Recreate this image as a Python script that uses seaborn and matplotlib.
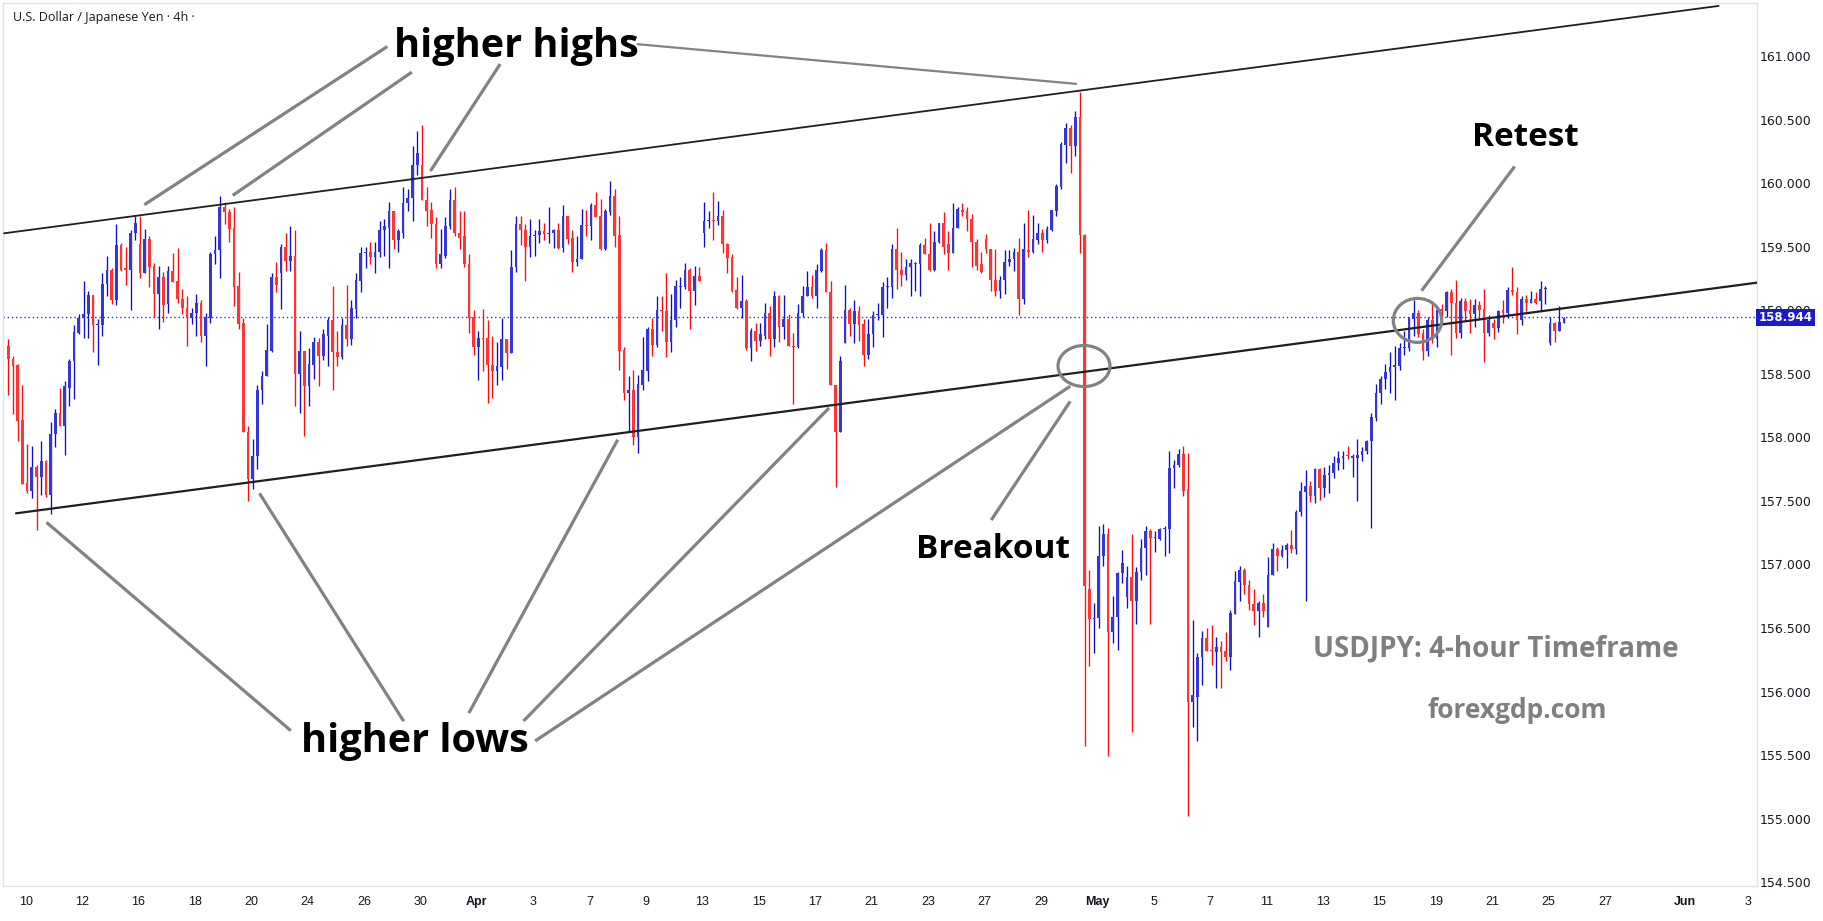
import numpy as np
import pandas as pd
import matplotlib
matplotlib.use("Agg")
import matplotlib.pyplot as plt
import matplotlib.transforms as mtransforms
from matplotlib.patches import Ellipse
import seaborn as sns

# ---------------- data (USDJPY 4h candles) ----------------
opens = [158.72,158.62,158.57,158.14,157.64,157.58,157.77,157.69,157.81,157.55,
158.03,158.19,158.09,158.39,158.60,158.82,158.94,158.97,159.12,158.88,
158.88,159.21,159.32,159.08,159.51,159.33,159.32,159.61,159.52,159.29,
159.56,159.35,159.13,159.26,159.05,159.31,159.23,159.09,159.02,158.94,
158.98,159.06,158.80,158.94,159.44,159.47,159.81,159.77,159.65,159.19,
158.90,158.04,157.67,157.85,158.37,158.48,158.68,159.26,159.29,159.50,
159.39,159.43,158.50,158.68,158.40,158.57,158.75,158.64,158.80,158.92,
158.67,158.63,158.88,158.77,159.01,159.23,159.45,159.46,159.42,159.46,
159.63,159.65,159.78,159.55,159.61,159.84,159.88,160.14,160.14,159.87,
159.79,159.68,159.36,159.43,159.66,159.87,159.61,159.58,159.36,158.95,
158.71,158.78,158.78,158.57,158.52,158.55,158.77,158.66,159.34,159.68,
159.63,159.50,159.58,159.59,159.62,159.60,159.61,159.63,159.49,159.74,
159.57,159.38,159.40,159.67,159.66,159.83,159.74,159.48,159.77,159.90,
159.59,158.69,158.35,158.37,158.00,158.41,158.52,158.85,158.73,159.00,
158.99,158.75,158.92,159.18,159.18,159.32,159.15,159.27,159.61,159.70,
159.71,159.70,159.74,159.52,159.42,159.16,159.02,159.07,158.70,158.84,
158.76,158.80,158.98,158.77,159.11,158.87,158.93,158.72,158.71,158.98,
159.11,159.18,159.11,159.31,159.47,159.14,158.41,158.04,158.74,159.00,
158.89,158.99,158.89,158.65,158.81,158.96,158.96,159.18,159.18,159.48,
159.32,159.28,159.34,159.36,159.36,159.51,159.44,159.32,159.54,159.69,
159.52,159.45,159.65,159.79,159.78,159.72,159.54,159.36,159.56,159.48,
159.24,159.15,159.24,159.38,159.40,159.46,159.09,159.47,159.46,159.55,
159.61,159.55,159.63,159.78,159.97,160.30,160.43,160.29,160.52,159.59,
156.81,156.57,156.58,157.07,157.24,156.47,156.59,156.93,156.74,156.90,
156.71,156.94,157.13,157.26,157.21,157.20,157.28,157.28,157.76,157.78,
157.87,157.59,155.92,155.96,156.27,156.42,156.33,156.31,156.35,156.32,
156.27,156.61,156.86,156.96,156.84,156.69,156.63,156.70,156.51,156.92,
157.12,157.07,157.11,157.15,157.12,157.41,157.57,157.62,157.54,157.75,
157.60,157.70,157.72,157.80,157.84,157.86,157.84,157.84,157.86,157.89,
157.97,158.15,158.35,158.46,158.51,158.55,158.56,158.70,158.70,158.93,
158.98,158.82,158.68,158.92,158.77,159.01,158.99,159.14,159.06,158.82,
159.07,159.00,158.97,159.04,159.01,158.82,158.90,158.86,159.00,158.98,
159.16,159.14,158.92,159.09,159.06,159.09,159.07,159.17,158.74,158.90,
158.84,158.90]
highs = [158.77,158.64,158.58,158.41,157.95,157.93,157.78,157.97,157.82,158.12,
158.22,158.39,158.44,158.62,158.88,158.97,159.23,159.15,159.12,158.93,
159.29,159.43,159.33,159.68,159.53,159.50,159.63,159.74,159.74,159.64,
159.58,159.37,159.35,159.30,159.35,159.45,159.49,159.17,159.11,159.02,
159.13,159.08,158.98,159.46,159.58,159.90,159.85,159.80,159.81,159.30,
158.94,158.09,157.99,158.41,158.52,158.89,159.29,159.38,159.52,159.61,
159.66,159.63,158.84,158.68,158.70,158.79,158.78,158.85,158.95,159.19,
158.84,158.94,159.20,159.08,159.29,159.50,159.50,159.54,159.54,159.70,
159.72,159.85,159.78,159.64,159.97,159.95,160.29,160.41,160.46,159.97,
159.85,159.73,159.64,159.73,159.95,159.97,159.78,159.78,159.44,159.00,
158.84,159.01,158.92,158.80,158.75,158.94,158.77,159.47,159.74,159.74,
159.68,159.72,159.63,159.72,159.69,159.81,159.64,159.69,159.83,159.74,
159.63,159.58,159.80,159.79,159.84,159.93,159.875,159.80,160.02,159.95,
159.74,158.71,158.48,158.53,158.49,158.79,158.87,158.94,159.11,159.11,
159.29,159.13,159.24,159.26,159.37,159.33,159.35,159.34,159.85,159.78,
159.93,159.86,159.79,159.53,159.44,159.26,159.28,159.09,158.86,158.90,
158.90,159.06,159.03,159.15,159.12,159.12,158.97,158.82,159.05,159.19,
159.31,159.28,159.36,159.49,159.53,159.23,158.41,158.64,159.20,159.02,
159.08,159.03,158.93,158.93,158.99,159.06,159.22,159.26,159.52,159.65,
159.46,159.40,159.40,159.38,159.53,159.57,159.69,159.62,159.69,159.77,
159.62,159.84,159.81,159.84,159.81,159.76,159.56,159.46,159.60,159.48,
159.48,159.27,159.47,159.47,159.49,159.57,159.69,159.79,159.75,159.69,
159.64,159.66,159.79,159.99,160.32,160.47,160.46,160.57,160.72,159.60,
156.96,156.70,157.30,157.32,157.29,156.75,156.94,157.11,156.99,157.24,
156.98,157.20,157.30,157.28,157.26,157.29,157.30,157.89,157.82,157.91,
157.93,157.88,156.56,156.30,156.48,156.50,156.52,156.43,156.40,156.47,
156.64,156.95,156.99,156.97,156.88,156.81,156.71,156.77,157.06,157.17,
157.14,157.15,157.17,157.27,157.43,157.65,157.74,157.66,157.76,157.76,
157.77,157.78,157.85,157.89,157.89,157.93,157.87,157.99,157.92,157.98,
158.19,158.42,158.48,158.58,158.67,158.72,158.74,158.84,158.95,159.08,
159.00,158.85,158.95,159.07,159.03,159.05,159.15,159.17,159.24,159.10,
159.10,159.09,159.09,159.07,159.17,158.96,158.93,159.00,159.08,159.18,
159.34,159.18,159.11,159.12,159.15,159.14,159.23,159.19,158.95,158.91,
159.03,158.95]
lows = [158.33,158.18,157.97,157.63,157.56,157.52,157.27,157.55,157.53,157.40,
157.92,158.09,157.86,158.25,158.30,158.81,158.78,158.78,158.67,158.57,
158.80,159.11,159.05,159.04,159.31,159.20,159.00,159.55,159.25,159.29,
159.18,158.95,158.85,158.91,158.98,159.22,159.06,158.97,158.72,158.89,
158.80,158.75,158.56,158.90,159.36,159.25,159.68,159.54,159.03,158.85,
158.04,157.50,157.59,157.75,158.26,158.48,158.67,159.14,159.01,159.31,
159.31,158.25,158.19,158.01,158.25,158.46,158.40,158.61,158.56,158.37,
158.56,158.62,158.72,158.73,158.94,159.14,159.33,159.36,159.29,159.42,
159.43,159.33,159.48,159.46,159.57,159.78,159.70,160.06,159.87,159.66,
159.57,159.33,159.33,159.41,159.64,159.58,159.48,159.34,158.82,158.65,
158.45,158.52,158.27,158.31,158.41,158.45,158.54,158.66,159.30,159.51,
159.23,159.42,159.43,159.53,159.55,159.53,159.49,159.48,159.46,159.52,
159.30,159.35,159.40,159.58,159.55,159.73,159.47,159.47,159.75,159.50,
158.53,158.29,158.04,157.94,157.88,158.37,158.44,158.64,158.71,158.84,
158.63,158.67,158.87,159.02,159.17,158.85,159.04,159.23,159.50,159.65,
159.55,159.67,159.45,159.29,159.14,159.01,158.94,158.69,158.60,158.68,
158.72,158.77,158.64,158.71,158.75,158.77,158.72,158.26,158.70,158.95,
159.11,159.10,159.02,159.30,159.14,158.41,157.61,158.04,158.74,158.80,
158.74,158.76,158.56,158.62,158.71,158.92,158.79,159.02,159.10,159.17,
159.19,159.24,159.11,159.15,159.11,159.44,159.31,159.31,159.53,159.44,
159.32,159.45,159.65,159.74,159.62,159.34,159.32,159.29,159.45,159.15,
159.11,159.10,159.13,159.35,159.31,158.96,159.05,159.42,159.45,159.52,
159.46,159.53,159.62,159.74,159.95,160.16,160.08,160.21,159.45,155.57,
156.20,156.30,156.50,156.99,155.49,156.38,156.33,156.85,156.66,155.68,
156.53,156.88,156.92,156.53,157.10,157.19,157.07,157.09,157.60,157.77,
157.54,155.02,155.72,155.61,156.05,156.32,156.21,156.03,156.03,156.24,
156.17,156.61,156.71,156.77,156.64,156.52,156.43,156.59,156.51,156.92,
156.95,157.06,156.97,157.09,157.08,157.38,156.71,157.49,157.48,157.51,
157.53,157.56,157.68,157.74,157.75,157.83,157.69,157.50,157.81,157.87,
157.29,158.13,158.26,158.38,158.35,158.29,158.53,158.65,158.68,158.80,
158.79,158.61,158.64,158.74,158.71,158.95,158.95,158.65,158.78,158.78,
158.92,158.82,158.87,158.92,158.59,158.80,158.77,158.83,158.90,158.94,
159.12,158.81,158.88,158.99,159.06,159.05,158.99,159.05,158.73,158.75,
158.84,158.90]
closes = [158.62,158.56,158.13,157.63,157.58,157.77,157.69,157.81,157.55,158.03,
158.19,158.09,158.40,158.60,158.83,158.94,158.97,159.12,158.88,158.89,
159.21,159.32,159.08,159.51,159.32,159.32,159.61,159.69,159.29,159.56,
159.34,159.13,159.26,159.04,159.31,159.22,159.09,159.02,158.94,158.98,
159.06,158.80,158.95,159.44,159.47,159.81,159.77,159.64,159.18,158.89,
158.04,157.67,157.85,158.37,158.48,158.69,159.26,159.20,159.50,159.39,
159.43,158.50,158.68,158.40,158.58,158.75,158.64,158.81,158.92,158.67,
158.63,158.88,158.77,159.02,159.24,159.45,159.46,159.42,159.46,159.63,
159.66,159.78,159.55,159.62,159.84,159.88,160.14,160.24,159.87,159.78,
159.68,159.36,159.44,159.66,159.87,159.61,159.57,159.36,158.94,158.71,
158.78,158.77,158.57,158.52,158.56,158.77,158.66,159.34,159.68,159.63,
159.50,159.58,159.59,159.62,159.60,159.61,159.63,159.49,159.74,159.56,
159.38,159.40,159.67,159.66,159.83,159.73,159.48,159.78,159.90,159.58,
158.68,158.35,158.37,158.00,158.42,158.53,158.85,158.73,159.00,158.99,
158.75,158.92,159.19,159.19,159.32,159.15,159.27,159.23,159.70,159.71,
159.70,159.74,159.52,159.41,159.15,159.02,159.07,158.70,158.84,158.76,
158.81,158.98,158.77,159.11,158.87,158.93,158.72,158.71,158.98,159.11,
159.18,159.11,159.32,159.47,159.14,158.41,158.04,158.60,159.00,158.89,
158.99,158.88,158.65,158.81,158.96,158.96,159.18,159.19,159.48,159.32,
159.28,159.34,159.37,159.37,159.51,159.44,159.32,159.54,159.69,159.50,
159.45,159.65,159.80,159.77,159.72,159.54,159.35,159.30,159.48,159.24,
159.15,159.24,159.38,159.40,159.46,159.09,159.48,159.46,159.56,159.61,
159.55,159.64,159.79,159.98,160.31,160.43,160.29,160.52,159.59,156.83,
156.57,156.58,157.07,157.24,156.47,156.59,156.93,157.01,156.90,156.71,
156.94,157.13,157.26,157.21,157.21,157.28,157.28,157.76,157.78,157.87,
157.58,155.92,155.97,156.27,156.42,156.32,156.32,156.35,156.31,156.27,
156.62,156.87,156.96,156.84,156.69,156.63,156.70,156.63,156.92,157.12,
157.07,157.11,157.15,157.12,157.41,157.58,157.62,157.54,157.75,157.60,
157.70,157.72,157.80,157.84,157.85,157.85,157.85,157.86,157.89,157.97,
158.16,158.35,158.46,158.51,158.55,158.57,158.70,158.71,158.94,158.98,
158.81,158.68,158.92,158.77,159.00,158.99,159.14,159.06,158.82,159.07,
158.99,158.97,159.04,159.00,158.82,158.92,158.86,158.99,158.98,159.16,
159.14,158.92,159.09,159.06,159.09,159.06,159.17,159.17,158.90,158.84,
158.91,158.94]

last_price = 158.944
price_ticks = [154.5, 155.0, 155.5, 156.0, 156.5, 157.0, 157.5, 158.0,
               158.5, 159.0, 159.5, 160.0, 160.5, 161.0]
date_labels = ['10', '12', '16', '18', '20', '24', '26', '30', 'Apr', '3', '7', '9',
               '13', '15', '17', '21', '23', '27', '29', 'May', '5', '7', '11', '13',
               '15', '19', '21', '25', '27', 'Jun', '3']
date_pos = [3.7, 15.7, 27.7, 39.7, 51.7, 63.7, 75.7, 87.7, 99.7, 111.7, 123.7, 135.7,
            147.7, 159.7, 171.7, 183.7, 195.7, 207.7, 219.7, 231.7, 243.7, 255.7,
            267.7, 279.7, 291.7, 303.7, 315.7, 327.7, 339.7, 356.7, 370.1]
month_labels = {'Apr', 'May', 'Jun'}

# channel lines (candle index, price)
upper_x = [-0.91, 363.9]
upper_y = [159.605, 161.394]
lower_x = [1.64, 372.1]
lower_y = [157.402, 159.217]

# annotation pointer lines ((x0, y0), (x1, y1)) in (candle index, price)
pointer_lines = [
    ((28.94, 159.830), (80.66, 161.075)),
    ((47.74, 159.903), (85.85, 160.873)),
    ((89.81, 160.095), (104.66, 160.937)),
    ((8.13, 157.331), (60.11, 155.692)),
    ((53.43, 157.560), (84.13, 155.766)),
    ((129.66, 157.981), (97.98, 155.830)),
    ((174.62, 158.231), (109.62, 155.768)),
    ((225.94, 158.402), (112.09, 155.611)),
    ((225.94, 158.283), (209.13, 157.349)),
    ((320.49, 160.131), (300.70, 159.153)),
]
thin_pointer = ((133.87, 161.093), (227.17, 160.781))
circles = [((228.87, 158.561), 11.06, 0.323), ((299.83, 158.920), 10.30, 0.346)]

labels_black = [("higher highs", 108.1, 161.075, 28.5),
                ("higher lows", 86.5, 155.603, 28.5),
                ("Breakout", 209.6, 157.121, 24),
                ("Retest", 322.7, 160.356, 24)]
labels_gray = [("USDJPY: 4-hour Timeframe", 316.5, 156.334, 20),
               ("forexgdp.com", 321.0, 155.847, 19)]

# ---------------- figure ----------------
sns.set_theme(style="white")
plt.rcParams['font.family'] = ['DejaVu Sans']

FW, FH = 1824, 921
fig = plt.figure(figsize=(FW / 100, FH / 100), dpi=100)
fig.patch.set_facecolor('white')
ax = fig.add_axes([3 / FW, 35 / FH, 1754 / FW, 883 / FH])
ax.set_facecolor('white')

df = pd.DataFrame({'o': opens, 'h': highs, 'l': lows, 'c': closes})
df['i'] = np.arange(len(df))
up = df['c'] >= df['o']
body_col = np.where(up, '#3535d8', '#ff3434')
wick_col = np.where(up, '#0b0bcc', '#ff0a0a')

ax.vlines(df['i'], df['l'], df['h'], colors=wick_col, linewidth=0.95, zorder=3)
body_h = np.maximum((df['c'] - df['o']).abs(), 0.007)
body_b = np.minimum(df['o'], df['c'])
ax.bar(df['i'], body_h, bottom=body_b, width=0.58, color=body_col, linewidth=0, zorder=4)

# current price dotted line
ax.axhline(last_price, color='#2a2ad8', lw=1.0, linestyle=(0, (1, 2)), zorder=2)

# channel lines
sns.lineplot(x=upper_x, y=upper_y, ax=ax, color='#1e1e24', linewidth=1.3, zorder=5)
sns.lineplot(x=lower_x, y=lower_y, ax=ax, color='#1e1e24', linewidth=1.6, zorder=5)

for (x0, y0), (x1, y1) in pointer_lines:
    ax.plot([x0, x1], [y0, y1], color='#828282', lw=2.3, solid_capstyle='butt', zorder=6)
(x0, y0), (x1, y1) = thin_pointer
ax.plot([x0, x1], [y0, y1], color='#828282', lw=1.6, zorder=6)
for (cx, cy), w, h in circles:
    ax.add_patch(Ellipse((cx, cy), w, h, fill=False, ec='#828282', lw=2.3, zorder=6))

for s, x, y, fs in labels_black:
    ax.text(x, y, s, ha='center', va='center', fontsize=fs, fontweight='bold',
            family=['Open Sans', 'DejaVu Sans'], color='black', zorder=7)
for s, x, y, fs in labels_gray:
    ax.text(x, y, s, ha='center', va='center', fontsize=fs, fontweight='bold',
            family=['Open Sans', 'DejaVu Sans'], color='#7f7f7f', zorder=7)

# axes limits
ax.set_xlim(-1.128, 372.06)
ax.set_ylim(154.470, 161.417)

# y axis on right
ax.yaxis.tick_right()
ax.set_yticks(price_ticks)
ax.set_yticklabels([f"{v:.3f}" for v in price_ticks], fontsize=9, color='#131722')
ax.tick_params(axis='y', length=0, pad=20.5)
for lab in ax.get_yticklabels():
    lab.set_horizontalalignment('center')

# x axis
ax.set_xticks(date_pos)
ax.set_xticklabels(date_labels, fontsize=9, color='#131722',
                   family=['Liberation Sans Narrow', 'Liberation Sans', 'DejaVu Sans'])
for lab in ax.get_xticklabels():
    if lab.get_text() in month_labels:
        lab.set_fontweight('bold')
ax.tick_params(axis='x', length=0, pad=7)

for sp in ax.spines.values():
    sp.set_color('#e0e3eb')
    sp.set_linewidth(1.0)
ax.grid(False)

# last price tag
trans = mtransforms.blended_transform_factory(ax.transAxes, ax.transData)
ax.text(1 + 28.5 / 1754, last_price, f"{last_price:.3f}", transform=trans,
        ha='center', va='center', fontsize=8.5, fontweight='bold', color='white',
        bbox=dict(boxstyle='square,pad=0.18', fc='#1a1ad2', ec='none'),
        clip_on=False, zorder=10)

# title
fig.text(13 / FW, 1 - 17 / FH, "U.S. Dollar / Japanese Yen · 4h ·", fontsize=9,
         va='center', ha='left', color='#131722', family=['Open Sans', 'DejaVu Sans'])

fig.savefig("out.png", dpi=100, facecolor='white')
